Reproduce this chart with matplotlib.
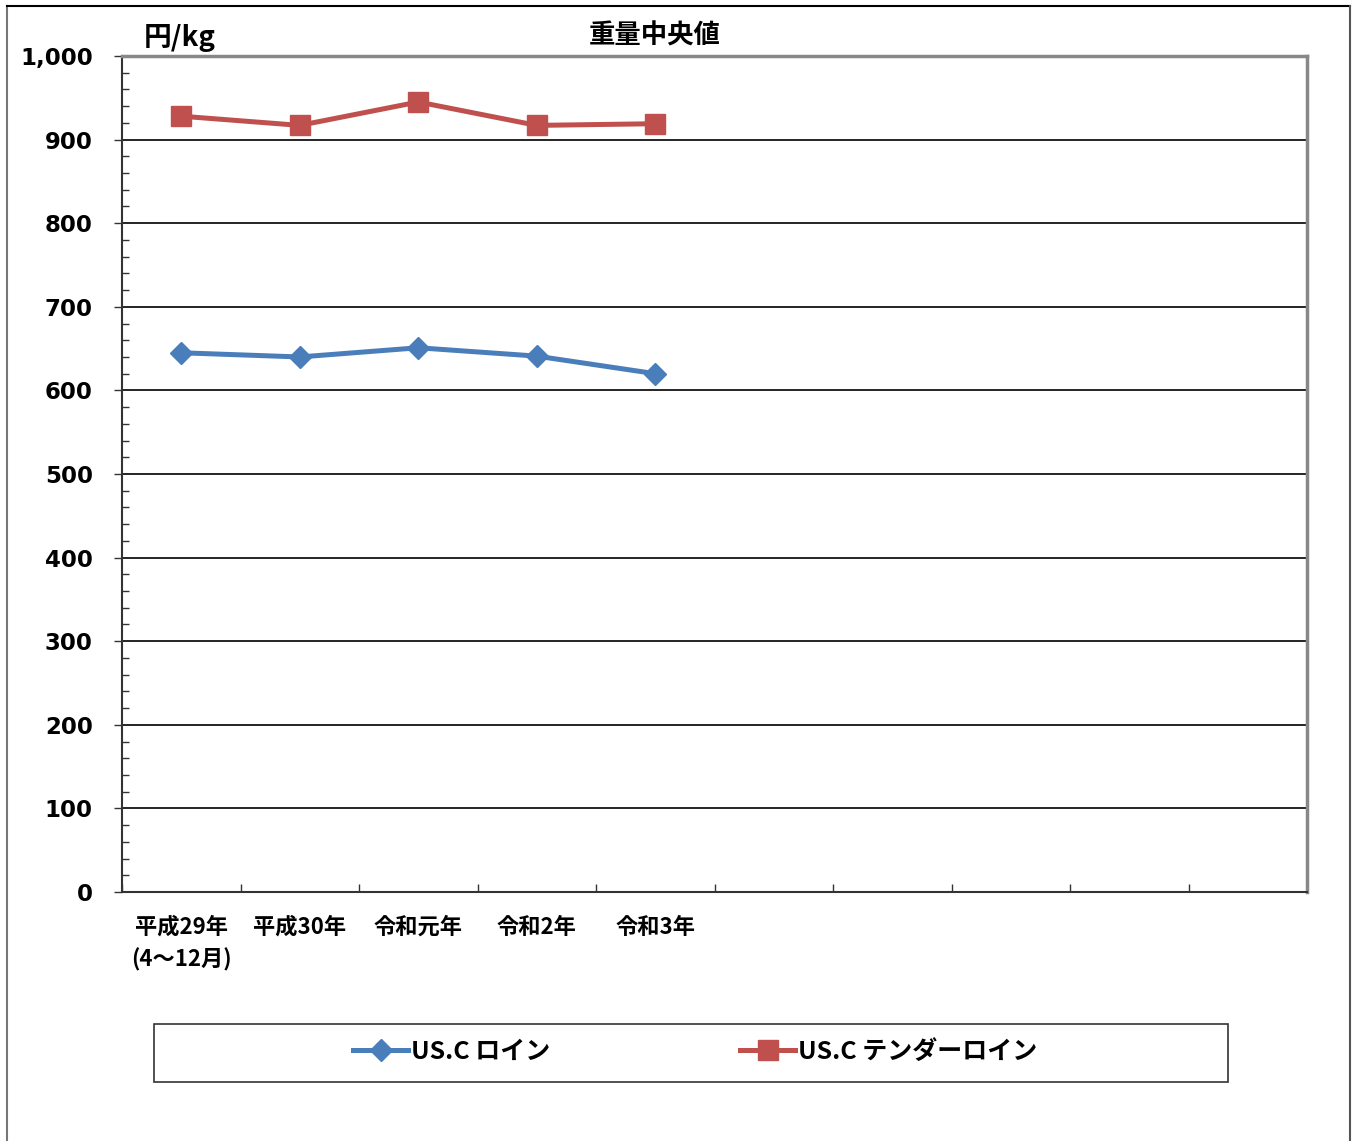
import matplotlib
matplotlib.use("Agg")
import matplotlib.pyplot as plt
from matplotlib.lines import Line2D
from matplotlib.patches import Rectangle
from matplotlib.ticker import MultipleLocator

plt.rcParams['font.family'] = ['Noto Sans CJK JP', 'DejaVu Sans']

categories = ["平成29年\n(4～12月)", "平成30年", "令和元年", "令和2年", "令和3年"]
n_slots = 10
loin = [645, 640, 651, 641, 620]
tenderloin = [928, 917, 945, 917, 919]
series_names = ["US.C ロイン", "US.C テンダーロイン"]
y_ticks = list(range(0, 1001, 100))
blue = "#4A7EBB"
red = "#C0504D"

W, H = 1354, 1141
fig = plt.figure(figsize=(W / 100, H / 100), dpi=100)
ax = fig.add_axes([122 / W, 1 - 892 / H, (1307 - 122) / W, (892 - 56) / H])

x = [i + 0.5 for i in range(len(categories))]
ax.plot(x, loin, color=blue, lw=3.6, marker="D", ms=11, mfc=blue, mec=blue,
        label=series_names[0], zorder=3, clip_on=False)
ax.plot(x, tenderloin, color=red, lw=3.6, marker="s", ms=14, mfc=red, mec=red,
        label=series_names[1], zorder=3, clip_on=False)

ax.set_xlim(0, n_slots)
ax.set_ylim(0, 1000)

ax.set_yticks(y_ticks, labels=[f"{v:,}" for v in y_ticks],
              fontweight="bold", fontsize=16.5)
ax.yaxis.set_minor_locator(MultipleLocator(20))
ax.grid(axis="y", which="major", color="black", lw=1.2)
ax.set_axisbelow(True)
ax.tick_params(axis="y", which="major", direction="out", length=6, width=1,
               color="#333333", pad=15, labelfontfamily="DejaVu Sans")
ax.tick_params(axis="y", which="minor", direction="in", length=5, width=1,
               color="#333333")

ax.set_xticks(range(n_slots + 1))
ax.set_xticklabels([])
ax.set_xticks(x, minor=True)
ax.set_xticklabels(categories, minor=True, fontsize=16, fontweight="bold",
                   linespacing=1.5)
ax.tick_params(axis="x", which="major", direction="in", length=6, width=1,
               color="#333333")
ax.tick_params(axis="x", which="minor", length=0, pad=17)

for s in ["left", "bottom"]:
    ax.spines[s].set_color("#333333")
    ax.spines[s].set_linewidth(1.5)
for s in ["top", "right"]:
    ax.spines[s].set_color("#888888")
    ax.spines[s].set_linewidth(2.5)

fig.text(655 / W, 1 - 36 / H, "重量中央値", ha="center", va="center",
         fontsize=19, fontweight="bold")
fig.text(180 / W, 1 - 38 / H, "円/kg", ha="center", va="center",
         fontsize=20, fontweight="bold")

# legend box
fig.patches.append(Rectangle((154 / W, 1 - 1082 / H), (1228 - 154) / W, 58 / H,
                             transform=fig.transFigure, fill=False,
                             edgecolor="#333333", lw=1.2))
leg = fig.legend(loc="center", bbox_to_anchor=(695 / W, 1 - 1052 / H), ncol=2,
                 frameon=False, handlelength=2.2, columnspacing=7.6,
                 handletextpad=0.1, prop={"weight": "bold", "size": 18})

# outer border (left, top, right)
fig.lines.append(Line2D([7 / W, 7 / W], [0, 1 - 6 / H], transform=fig.transFigure,
                        color="#777777", lw=1.5))
fig.lines.append(Line2D([7 / W, 1350 / W], [1 - 6 / H, 1 - 6 / H],
                        transform=fig.transFigure, color="black", lw=1.5))
fig.lines.append(Line2D([1350 / W, 1350 / W], [0, 1 - 6 / H],
                        transform=fig.transFigure, color="#555555", lw=1.5))

fig.savefig("out.png", dpi=100)
